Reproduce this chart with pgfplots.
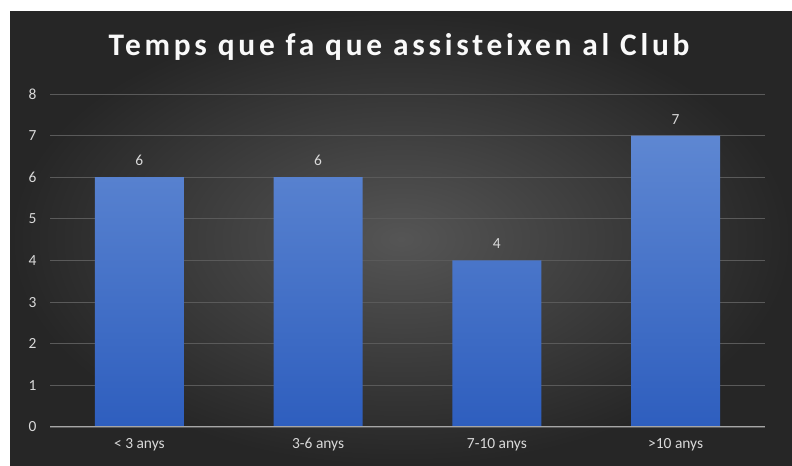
\documentclass[border=0pt]{standalone}
\usepackage{pgfplots}
\pgfplotsset{compat=1.18}
\usepackage{fontspec}
\setmainfont{Carlito}
\newfontfamily\titlefont[LetterSpace=12]{Carlito}
\definecolor{bgin}{HTML}{555555}
\definecolor{bgout}{HTML}{262626}
\definecolor{gridc}{HTML}{5A5A5A}
\definecolor{labc}{HTML}{D9D9D9}
\definecolor{bartop}{HTML}{5E87D2}
\definecolor{barbot}{HTML}{2E5EBE}
\begin{document}
\begin{tikzpicture}[x=1bp,y=1bp]
\fill[white] (0,0) rectangle (792,466);
\fill[bgout] (10,0) rectangle (792,454);
\shade[inner color=bgin, outer color=bgout] (10,0) rectangle (792,454);
\node[text=white!95!gray, font=\titlefont\fontsize{31.5}{36}\selectfont\bfseries] at (399,419) {Temps que fa que assisteixen al Club};
\begin{axis}[
  at={(50bp,39bp)}, anchor=south west,
  scale only axis, width=715bp, height=333bp,
  xmin=-0.5, xmax=3.5, ymin=0, ymax=8,
  ytick={0,...,8},
  xtick={0,1,2,3},
  xticklabels={{< 3 anys},{3-6 anys},{7-10 anys},{>10 anys}},
  axis line style={draw=none},
  major tick length=0pt,
  ymajorgrids, grid style={gridc, line width=0.8bp},
  ticklabel style={text=labc, font=\fontsize{15.5}{18}\selectfont},
  /pgf/number format/assume math mode=true,
  yticklabel style={xshift=-10bp},
  xticklabel style={yshift=-8bp},
  clip=false,
  ybar, bar width=89bp,
  nodes near coords,
  nodes near coords style={text=labc, font=\fontsize{15.5}{18}\selectfont, yshift=8bp},
]
\addplot[draw=none, top color=bartop, bottom color=barbot] coordinates {(0,6) (1,6) (2,4) (3,7)};
\draw[color=gray!70!white, line width=1bp] (axis cs:-0.5,0) -- (axis cs:3.5,0);
\end{axis}
\pgfresetboundingbox
\useasboundingbox (0,0) rectangle (792,466);
\end{tikzpicture}
\end{document}
